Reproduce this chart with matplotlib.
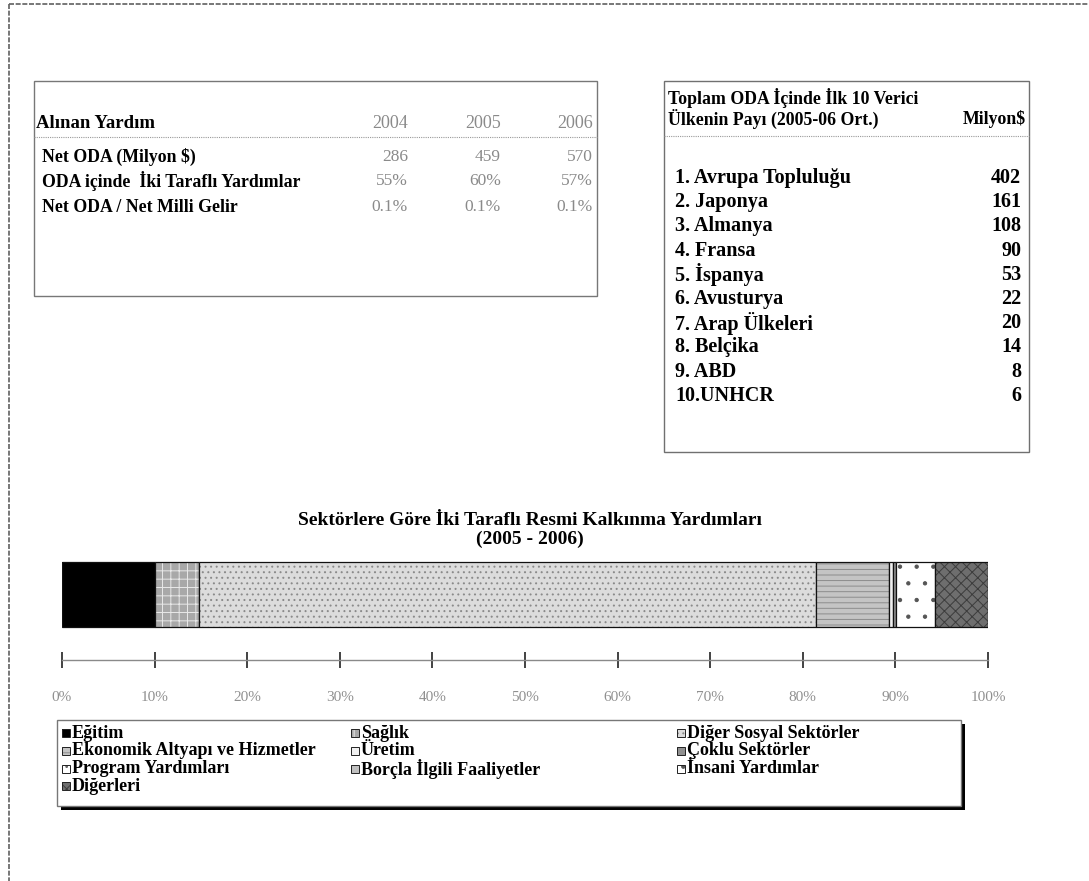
import matplotlib
matplotlib.use("Agg")
import matplotlib.pyplot as plt
from matplotlib.patches import Rectangle
from matplotlib.lines import Line2D

W, H = 1089, 881
plt.rcParams['font.family'] = ['Liberation Serif', 'DejaVu Serif']
plt.rcParams['hatch.linewidth'] = 0.7

# ---------------- data ----------------
aid_header = "Alınan Yardım"
aid_years = ["2004", "2005", "2006"]
aid_rows = ["Net ODA (Milyon $)", "ODA içinde  İki Taraflı Yardımlar", "Net ODA / Net Milli Gelir"]
aid_values = [["286", "459", "570"], ["55%", "60%", "57%"], ["0.1%", "0.1%", "0.1%"]]

donor_title = ["Toplam ODA İçinde İlk 10 Verici", "Ülkenin Payı (2005-06 Ort.)", "Milyon$"]
donor_names = ["1. Avrupa Topluluğu", "2. Japonya", "3. Almanya", "4. Fransa", "5. İspanya",
               "6. Avusturya", "7. Arap Ülkeleri", "8. Belçika", "9. ABD", "10.UNHCR"]
donor_values = [402, 161, 108, 90, 53, 22, 20, 14, 8, 6]

chart_title = "Sektörlere Göre İki Taraflı Resmi Kalkınma Yardımları\n(2005 - 2006)"
sectors = ["Eğitim", "Sağlık", "Diğer Sosyal Sektörler", "Ekonomik Altyapı ve Hizmetler",
           "Üretim", "Çoklu Sektörler", "Program Yardımları", "Borçla İlgili Faaliyetler",
           "İnsani Yardımlar", "Diğerleri"]
shares = [10.0, 4.8, 66.6, 7.9, 0.4, 0.4, 0.0, 0.0, 4.2, 5.7]
tick_values = [0, 10, 20, 30, 40, 50, 60, 70, 80, 90, 100]
tick_labels = ["0%", "10%", "20%", "30%", "40%", "50%", "60%", "70%", "80%", "90%", "100%"]

# styles (face, hatch, hatch colour)
styles = [("#000000", None, "#000000"),
          ("#a8a8a8", "++", "#e8e8e8"),
          ("#dcdcdc", "...", "#8a8a8a"),
          ("#c4c4c4", "---", "#8c8c8c"),
          ("#f0f0f0", None, "#000000"),
          ("#909090", None, "#000000"),
          ("#ffffff", "..", "#666666"),
          ("#c0c0c0", None, "#000000"),
          ("#ffffff", ".", "#555555"),
          ("#6e6e6e", "xxx", "#3c3c3c")]

fig = plt.figure(figsize=(W / 100, H / 100), dpi=100)
fig.patch.set_facecolor("white")


def fx(x):
    return x / W


def fy(y):
    return 1 - y / H


def box(x0, y0, x1, y1, color="#707070", lw=1.0, ls="-"):
    fig.add_artist(Rectangle((fx(x0), fy(y1)), fx(x1) - fx(x0), fy(y0) - fy(y1),
                             transform=fig.transFigure, fill=False, edgecolor=color, lw=lw, ls=ls))


def hline(x0, x1, y, color="#808080", lw=1.0, ls="-"):
    fig.add_artist(Line2D([fx(x0), fx(x1)], [fy(y), fy(y)], transform=fig.transFigure,
                          color=color, lw=lw, ls=ls))


def vline(x, y0, y1, color="#808080", lw=1.0, ls="-"):
    fig.add_artist(Line2D([fx(x), fx(x)], [fy(y0), fy(y1)], transform=fig.transFigure,
                          color=color, lw=lw, ls=ls))


# outer frame (left and top only)
hline(9, W, 4, color="#606060", lw=1.2, ls=(0, (3, 1)))
vline(9, 4, H, color="#606060", lw=1.2, ls=(0, (3, 1)))

# ---------------- left table ----------------
box(34, 81, 597, 296, color="#777777", lw=1.0)
hline(34, 597, 137, color="#999999", lw=0.8, ls=(0, (1, 1)))
fig.text(fx(36), fy(124), aid_header, fontsize=13.5, fontweight="bold", va="center", ha="left")
year_x = [408, 501, 593]
for yx, yr in zip(year_x, aid_years):
    fig.text(fx(yx), fy(124), yr, fontsize=13, color="#8a8a8a", va="center", ha="right")
row_y = [157, 181, 207]
for ry, name, vals in zip(row_y, aid_rows, aid_values):
    fig.text(fx(42), fy(ry), name, fontsize=12.8, fontweight="bold", va="center", ha="left")
    for yx, v in zip(year_x, vals):
        fig.text(fx(yx), fy(ry), v, fontsize=12.5, color="#8a8a8a", va="center", ha="right")

# ---------------- right table ----------------
box(664, 81, 1029, 452, color="#707070", lw=1.0)
hline(664, 1029, 136, color="#999999", lw=0.8, ls=(0, (1, 1)))
fig.text(fx(668), fy(98), donor_title[0], fontsize=12.8, fontweight="bold", va="center", ha="left")
fig.text(fx(668), fy(119), donor_title[1], fontsize=12.8, fontweight="bold", va="center", ha="left")
fig.text(fx(1026), fy(119), donor_title[2], fontsize=12.8, fontweight="bold", va="center", ha="right")
for i, (n, v) in enumerate(zip(donor_names, donor_values)):
    yy = 178 + i * 24.2
    fig.text(fx(675), fy(yy), n, fontsize=14.5, fontweight="bold", va="center", ha="left")
    fig.text(fx(1021), fy(yy), str(v), fontsize=14.5, fontweight="bold", va="center", ha="right")

# ---------------- title ----------------
fig.text(fx(530), fy(530), chart_title, fontsize=14, fontweight="bold", ha="center", va="center",
         linespacing=1.2)

# ---------------- stacked bar ----------------
ax_top, ax_bot = 555, 660
ax = fig.add_axes([fx(62), fy(ax_bot), fx(988) - fx(62), fy(ax_top) - fy(ax_bot)])
ax.set_xlim(0, 100)
ax.set_ylim(0, ax_bot - ax_top)
bar_y = ax_bot - 627
bar_h = 627 - 562
left = 0.0
for s, val, (fc, hatch, hc) in zip(sectors, shares, styles):
    if val > 0:
        ax.barh(bar_y, val, left=left, height=bar_h, align="edge", color=fc,
                hatch=hatch, edgecolor=hc, linewidth=0)
        ax.barh(bar_y, val, left=left, height=bar_h, align="edge", fill=False,
                edgecolor="#111111", linewidth=0.9)
    left += val
ax.set_facecolor("none")
for sp in ["left", "right", "top"]:
    ax.spines[sp].set_visible(False)
ax.spines["bottom"].set_color("#8a8a8a")
ax.spines["bottom"].set_linestyle((0, (2, 1)))
ax.spines["bottom"].set_linewidth(1.0)
ax.set_yticks([])
ax.set_xticks(tick_values)
ax.set_xticklabels(tick_labels)
ax.tick_params(axis="x", direction="inout", length=12, width=1.2, color="#222222",
               labelcolor="#909090", labelsize=11, pad=16)

# ---------------- legend ----------------
lx0, ly0, lx1, ly1 = 57, 720, 961, 806
fig.add_artist(Rectangle((fx(lx0 + 4), fy(ly1 + 4)), fx(lx1) - fx(lx0), fy(ly0) - fy(ly1),
                         transform=fig.transFigure, facecolor="black", edgecolor="none"))
fig.add_artist(Rectangle((fx(lx0), fy(ly1)), fx(lx1) - fx(lx0), fy(ly0) - fy(ly1),
                         transform=fig.transFigure, facecolor="white", edgecolor="#777777", lw=1.0))
col_x = [62, 351, 677]
row_y0, row_dy = 733, 17.8
for i, (s, (fc, hatch, hc)) in enumerate(zip(sectors, styles)):
    r, c = divmod(i, 3)
    xx, yy = col_x[c], row_y0 + r * row_dy
    fig.add_artist(Rectangle((fx(xx), fy(yy + 4)), fx(8), 8 / H, transform=fig.transFigure,
                             facecolor=fc, hatch=hatch, edgecolor=hc, lw=0))
    fig.add_artist(Rectangle((fx(xx), fy(yy + 4)), fx(8), 8 / H, transform=fig.transFigure,
                             fill=False, edgecolor="#222222", lw=0.7))
    fig.text(fx(xx + 10), fy(yy), s, fontsize=13, fontweight="bold", va="center", ha="left")

fig.savefig("out.png", dpi=100)
